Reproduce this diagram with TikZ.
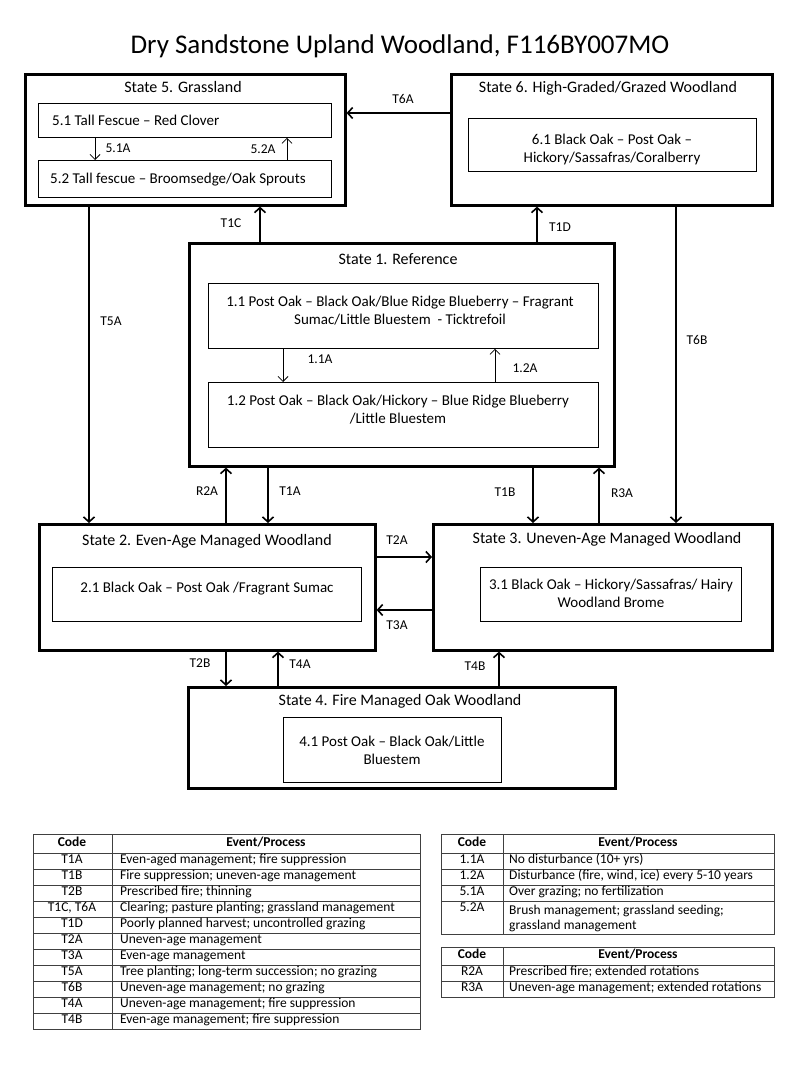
\documentclass[tikz,border=0pt]{standalone}
\usepackage{fontspec}
\setmainfont{Carlito}
\usetikzlibrary{arrows.meta}

\begin{document}
\begin{tikzpicture}[x=1pt,y=-1pt,
    statebox/.style={draw,line width=2.6pt,inner sep=0pt,anchor=north west},
    phasebox/.style={draw,line width=.8pt,inner sep=0pt,anchor=north west},
    stitle/.style={font=\fontsize{16}{18}\selectfont,inner sep=0pt,text height=.7em,text depth=.2em},
    ptext/.style={font=\fontsize{15}{18}\selectfont,align=center,inner sep=0pt},
    lbl/.style={font=\fontsize{13.5}{15}\selectfont,inner sep=0pt,text height=.7em,text depth=.2em},
    link/.style={line width=1.6pt,-{Straight Barb[length=5pt,width=11pt,line width=1.6pt]}},
    sublink/.style={line width=.8pt,-{Straight Barb[length=5pt,width=10pt,line width=.8pt]}},
    tbl/.style={draw=black!75,line width=.7pt},
    tcode/.style={font=\fontsize{13.5}{15}\selectfont,inner sep=0pt,text height=.7em,text depth=.2em},
    ttext/.style={font=\fontsize{13.5}{15}\selectfont,inner sep=0pt,anchor=west,align=left,text height=.7em,text depth=.2em},
    thead/.style={font=\bfseries\fontsize{13.5}{15}\selectfont,inner sep=0pt,text height=.7em,text depth=.2em}]
    \useasboundingbox (0,0) rectangle (800,1067);
    \node[font=\fontsize{27}{30}\selectfont] (title) at (400,46) {Dry Sandstone Upland Woodland, F116BY007MO};

    \node[statebox,minimum width=320,minimum height=131] (s5) at (24,73) {};
    \node[statebox,minimum width=321,minimum height=131] (s6) at (450,73) {};
    \node[statebox,minimum width=425,minimum height=223] (s1) at (188,242) {};
    \node[statebox,minimum width=336,minimum height=126] (s2) at (38,523) {};
    \node[statebox,minimum width=339,minimum height=126] (s3) at (432,523) {};
    \node[statebox,minimum width=427,minimum height=101] (s4) at (187,686) {};

    \node[stitle] (s5t) at (183,90) {State 5. Grassland};
    \node[stitle] (s6t) at (608,90) {State 6. High-Graded/Grazed Woodland};
    \node[stitle] (s1t) at (398,262) {State 1. Reference};
    \node[stitle] (s2t) at (207,543) {State 2. Even-Age Managed Woodland};
    \node[stitle] (s3t) at (607,541) {State 3. Uneven-Age Managed Woodland};
    \node[stitle] (s4t) at (400,703) {State 4. Fire Managed Oak Woodland};

    \node[phasebox,minimum width=293,minimum height=34] (p51) at (38,103) {};
    \node[phasebox,minimum width=293,minimum height=37] (p52) at (38,160) {};
    \node[phasebox,minimum width=288,minimum height=53] (p61) at (468,118) {};
    \node[phasebox,minimum width=390,minimum height=65] (p11) at (208,283) {};
    \node[phasebox,minimum width=390,minimum height=65] (p12) at (208,382) {};
    \node[phasebox,minimum width=309,minimum height=54] (p21) at (52,567) {};
    \node[phasebox,minimum width=261,minimum height=54] (p31) at (480,567) {};
    \node[phasebox,minimum width=218,minimum height=65] (p41) at (283,717) {};

    \node[ptext,anchor=west] (p51t) at (52,120) {5.1 Tall Fescue -- Red Clover};
    \node[ptext,anchor=west] (p52t) at (50,180) {5.2 Tall fescue -- Broomsedge/Oak Sprouts};
    \node[ptext] (p61t) at (612,150) {6.1 Black Oak -- Post Oak --\\Hickory/Sassafras/Coralberry};
    \node[ptext] (p11t) at (400,311) {1.1 Post Oak -- Black Oak/Blue Ridge Blueberry -- Fragrant\\Sumac/Little Bluestem \ - Ticktrefoil};
    \node[ptext] (p12t) at (398,410) {1.2 Post Oak -- Black Oak/Hickory -- Blue Ridge Blueberry\\/Little Bluestem};
    \node[ptext] (p21t) at (207,589) {2.1 Black Oak -- Post Oak /Fragrant Sumac};
    \node[ptext] (p31t) at (611,593) {3.1 Black Oak -- Hickory/Sassafras/ Hairy\\Woodland Brome};
    \node[ptext] (p41t) at (392,750) {4.1 Post Oak -- Black Oak/Little\\Bluestem};

    \draw[sublink] (95,0 |- p51.south) -- (95,0 |- p52.north);
    \draw[sublink] (287,0 |- p52.north) -- (287,0 |- p51.south);
    \draw[sublink] (283,0 |- p11.south) -- (283,0 |- p12.north);
    \draw[sublink] (495,0 |- p12.north) -- (495,0 |- p11.south);
    \node[lbl] (l51a) at (118,150) {5.1A};
    \node[lbl] (l52a) at (263,151) {5.2A};
    \node[lbl] (l11a) at (320,361) {1.1A};
    \node[lbl] (l12a) at (525,370) {1.2A};

    \draw[link] (s6.west |- 0,113) -- (s5.east |- 0,113);
    \draw[link] (260,0 |- s1.north) -- (260,0 |- s5.south);
    \draw[link] (537,0 |- s1.north) -- (537,0 |- s6.south);
    \draw[link] (89,0 |- s5.south) -- (89,0 |- s2.north);
    \draw[link] (676,0 |- s6.south) -- (676,0 |- s3.north);
    \draw[link] (226,0 |- s2.north) -- (226,0 |- s1.south);
    \draw[link] (268,0 |- s1.south) -- (268,0 |- s2.north);
    \draw[link] (533,0 |- s1.south) -- (533,0 |- s3.north);
    \draw[link] (599,0 |- s3.north) -- (599,0 |- s1.south);
    \draw[link] (s2.east |- 0,557) -- (s3.west |- 0,557);
    \draw[link] (s3.west |- 0,610) -- (s2.east |- 0,610);
    \draw[link] (226,0 |- s2.south) -- (226,0 |- s4.north);
    \draw[link] (278,0 |- s4.north) -- (278,0 |- s2.south);
    \draw[link] (499,0 |- s4.north) -- (499,0 |- s3.south);
    \node[lbl] (lt6a) at (403,101) {T6A};
    \node[lbl] (lt1c) at (231,225) {T1C};
    \node[lbl] (lt1d) at (560,229) {T1D};
    \node[lbl] (lt5a) at (111,323) {T5A};
    \node[lbl] (lt6b) at (697,342) {T6B};
    \node[lbl] (lr2a) at (207,493) {R2A};
    \node[lbl] (lt1a) at (290,493) {T1A};
    \node[lbl] (lt1b) at (505,494) {T1B};
    \node[lbl] (lr3a) at (622,495) {R3A};
    \node[lbl] (lt2a) at (397,542) {T2A};
    \node[lbl] (lt3a) at (397,627) {T3A};
    \node[lbl] (lt2b) at (200,665) {T2B};
    \node[lbl] (lt4a) at (300,666) {T4A};
    \node[lbl] (lt4b) at (475,668) {T4B};

    \draw[tbl,line width=1pt] (33,834) rectangle (420,1029);
    \draw[tbl] (112,834) -- (112,1029);
    \foreach \k in {0,...,10}
        \draw[tbl] (33,853+16*\k) -- (420,853+16*\k);
    \node[thead] (ha) at (72,844) {Code};
    \node[thead] (hb) at (266,844) {Event/Process};
    \foreach \c/\e [count=\i] in {T1A/Even-aged management; fire suppression,
        T1B/Fire suppression; uneven-age management,
        T2B/Prescribed fire; thinning,
        {T1C, T6A}/Clearing; pasture planting; grassland management,
        T1D/Poorly planned harvest; uncontrolled grazing,
        T2A/Uneven-age management,
        T3A/Even-age management,
        T5A/Tree planting; long-term succession; no grazing,
        T6B/Uneven-age management; no grazing,
        T4A/Uneven-age management; fire suppression,
        T4B/Even-age management; fire suppression}
    {
        \node[tcode] (ca\i) at (72,845+16*\i) {\c};
        \node[ttext] (ea\i) at (120,845+16*\i) {\e};
    }

    \draw[tbl,line width=1pt] (441,834) rectangle (774,934);
    \draw[tbl] (503,834) -- (503,934);
    \foreach \k in {853,869,885,901}
        \draw[tbl] (441,\k) -- (774,\k);
    \node[thead] (hc) at (472,844) {Code};
    \node[thead] (hd) at (638,844) {Event/Process};
    \foreach \c/\e [count=\i] in {1.1A/No disturbance (10+ yrs),
        1.2A/{Disturbance (fire, wind, ice) every 5-10 years},
        5.1A/Over grazing; no fertilization}
    {
        \node[tcode] (cb\i) at (472,845+16*\i) {\c};
        \node[ttext] (eb\i) at (509,845+16*\i) {\e};
    }
    \node[tcode] (cb4) at (472,909) {5.2A};
    \node[font=\fontsize{13.5}{15}\selectfont,inner sep=0pt,anchor=west,align=left] (eb4) at (509,918) {Brush management; grassland seeding;\\grassland management};

    \draw[tbl,line width=1pt] (441,947) rectangle (774,997);
    \draw[tbl] (503,947) -- (503,997);
    \draw[tbl] (441,965) -- (774,965);
    \draw[tbl] (441,981) -- (774,981);
    \node[thead] (he) at (472,956) {Code};
    \node[thead] (hf) at (638,956) {Event/Process};
    \node[tcode] (cc1) at (472,973) {R2A};
    \node[ttext] (ec1) at (509,973) {Prescribed fire; extended rotations};
    \node[tcode] (cc2) at (472,989) {R3A};
    \node[ttext] (ec2) at (509,989) {Uneven-age management; extended rotations};
\end{tikzpicture}
\end{document}
